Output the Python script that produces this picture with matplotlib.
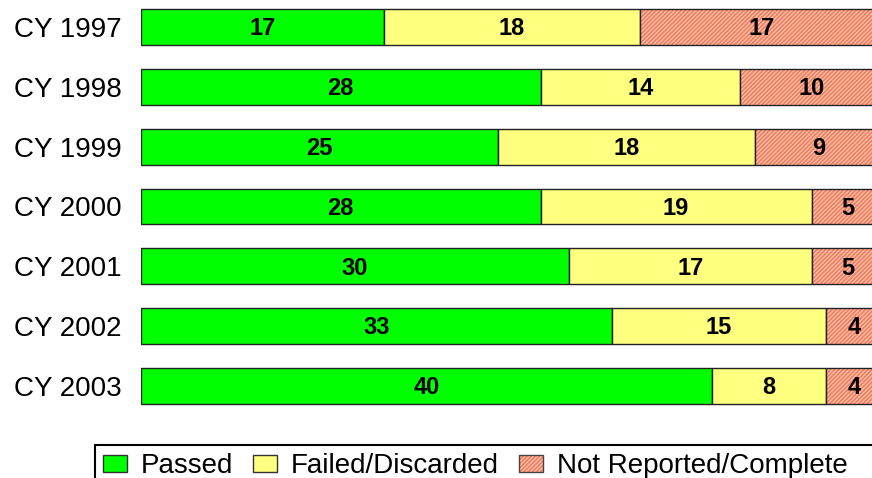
import numpy as np
import matplotlib; matplotlib.use('Agg')
import matplotlib.pyplot as plt
from matplotlib.patches import Patch, Rectangle

plt.rcParams['font.family'] = ['Liberation Sans', 'DejaVu Sans']
plt.rcParams['hatch.linewidth'] = 1.2

years = ['CY 1997', 'CY 1998', 'CY 1999', 'CY 2000', 'CY 2001', 'CY 2002', 'CY 2003']
passed = [17, 28, 25, 28, 30, 33, 40]
failed = [18, 14, 18, 19, 17, 15, 8]
not_reported = [17, 10, 9, 5, 5, 4, 4]

c_pass, c_fail, c_nr, c_hatch = '#00ff00', '#ffff80', '#fdc49c', '#f07c6c'

fig = plt.figure(figsize=(8.72, 4.78), dpi=100)
ax = fig.add_axes([141/872, 1 - 420/478, 1 - 141/872, 420/478])

y = np.arange(len(years))
h = 0.6
p = np.array(passed); f = np.array(failed); n = np.array(not_reported)

ax.barh(y, p, height=h, color=c_pass, edgecolor='#222222', lw=1)
ax.barh(y, f, left=p, height=h, color=c_fail, edgecolor='#222222', lw=1)
# hatched fill for the last segment, then a plain outline on top
ax.barh(y, n, left=p+f, height=h, color=c_nr, edgecolor=c_hatch, hatch='////////', lw=0)
ax.barh(y, n, left=p+f, height=h, fill=False, edgecolor='#222222', lw=1)

for i in range(len(years)):
    for left, val in [(0, p[i]), (p[i], f[i]), (p[i]+f[i], n[i])]:
        ax.text(left + val/2, y[i] + 0.03, str(val), ha='center', va='center',
                fontsize=17, fontweight='bold', color='black')

ax.set_xlim(0, 51.23)
ax.set_ylim(6.568, -0.451)
ax.set_yticks(y)
ax.set_yticklabels(years, fontsize=20)
ax.tick_params(axis='y', length=0, pad=14)
ax.set_xticks([])
for s in ax.spines.values():
    s.set_visible(False)

nr_handle = (Patch(facecolor=c_nr, edgecolor=c_hatch, hatch='////////', lw=0),
             Patch(fill=False, edgecolor='#444444'))
handles = [Patch(facecolor=c_pass, edgecolor='#333333'),
           Patch(facecolor=c_fail, edgecolor='#333333'),
           nr_handle]
leg = fig.legend(handles, ['Passed', 'Failed/Discarded', 'Not Reported/Complete'],
                 loc='upper left', bbox_to_anchor=(95/872, 1 - 445/478),
                 ncol=3, fontsize=20, frameon=False,
                 handlelength=0.86, handleheight=0.54, handletextpad=0.5,
                 columnspacing=0.72, borderpad=0.29, borderaxespad=0)

# legend box runs off the right and bottom edges
fig.patches.append(Rectangle((95/872, -0.05), 1.0, 0.05 + 1 - 445/478,
                             transform=fig.transFigure, fill=False,
                             edgecolor='black', lw=1.5))

fig.savefig('out.png', dpi=100)
